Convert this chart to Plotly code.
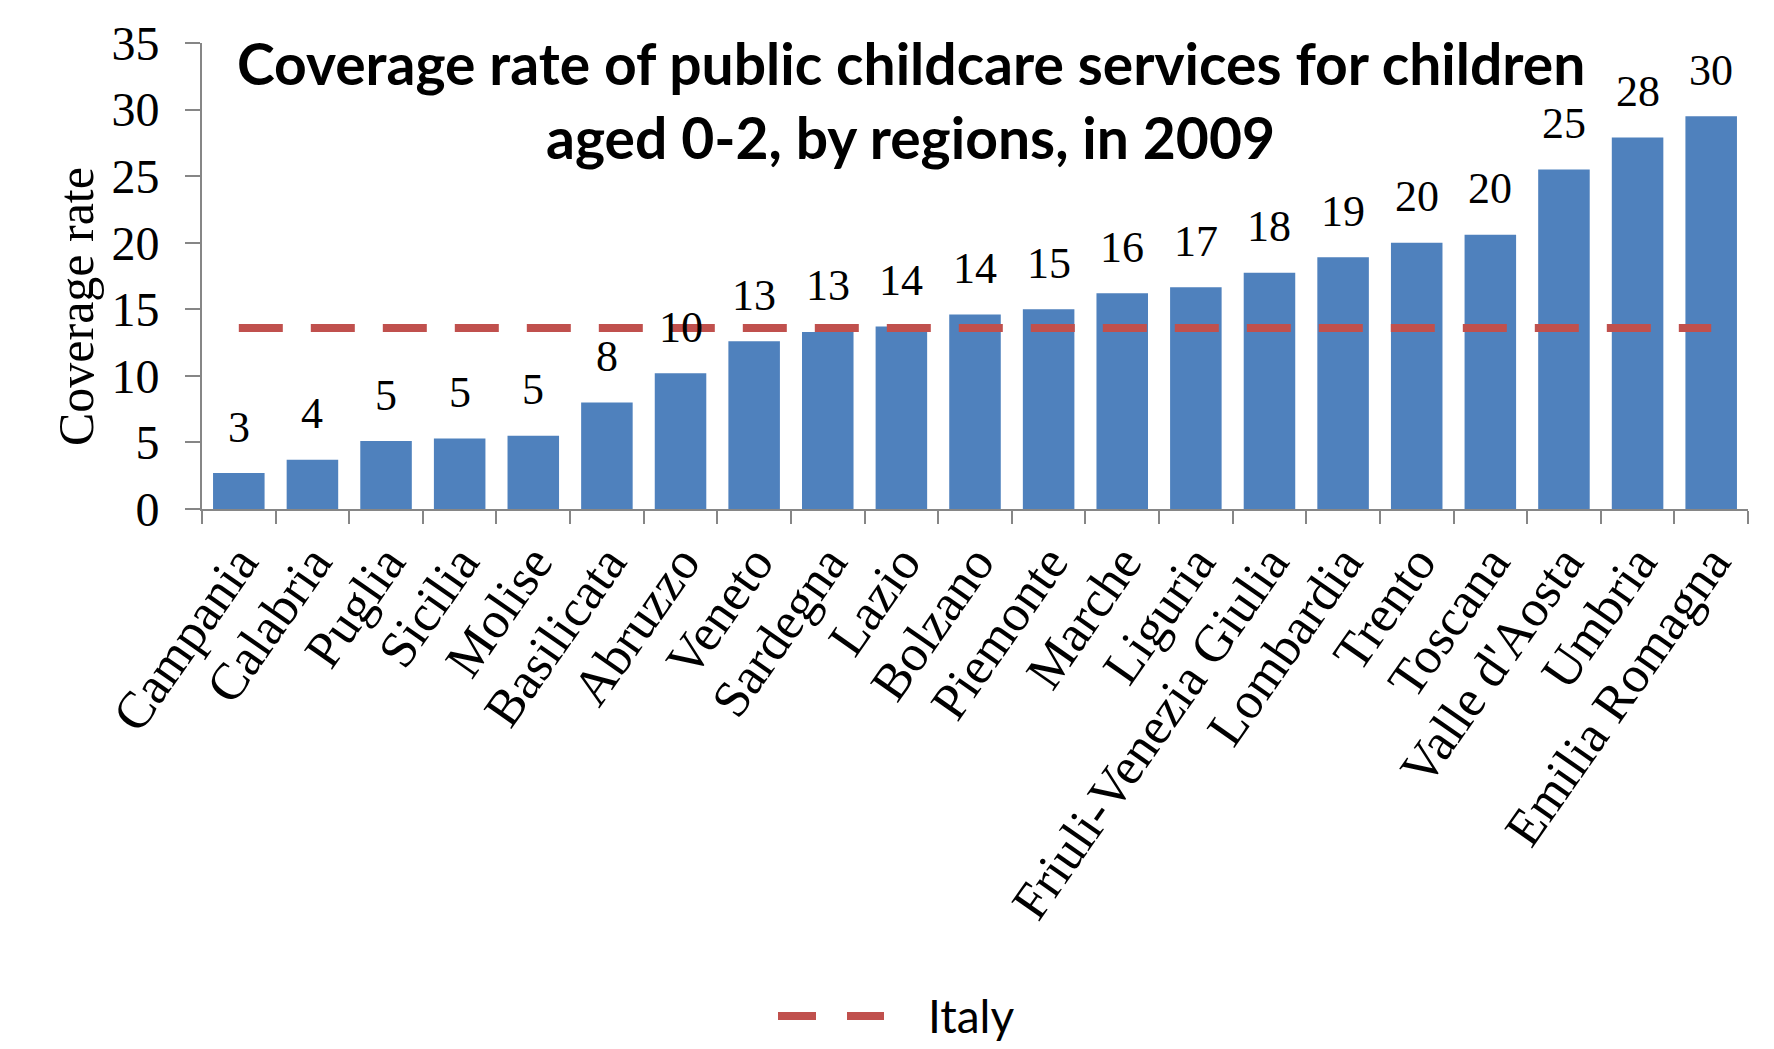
import plotly.graph_objects as go

regions = ["Campania", "Calabria", "Puglia", "Sicilia", "Molise", "Basilicata", "Abruzzo",
           "Veneto", "Sardegna", "Lazio", "Bolzano", "Piemonte", "Marche", "Liguria",
           "Friuli-Venezia Giulia", "Lombardia", "Trento", "Toscana", "Valle d'Aosta",
           "Umbria", "Emilia Romagna"]
coverage = [2.7, 3.7, 5.1, 5.3, 5.5, 8.0, 10.2, 12.6, 13.3, 13.7, 14.6, 15.0, 16.2, 16.65,
            17.75, 18.9, 20.0, 20.6, 25.5, 27.9, 29.5]
labels = ["3", "4", "5", "5", "5", "8", "10", "13", "13", "14", "14", "15", "16", "17",
          "18", "19", "20", "20", "25", "28", "30"]
italy_value = 13.6
italy = [italy_value] * len(regions)

serif = "Liberation Serif, Times New Roman, serif"
sans = "Lato, Carlito, Calibri, sans-serif"
RED = "#C0504D"

fig = go.Figure()
fig.add_trace(go.Bar(x=regions, y=coverage, marker=dict(color="#4F81BD", line=dict(width=0)),
                     showlegend=False, hoverinfo="x+y"))
fig.add_trace(go.Scatter(x=regions, y=italy, mode="lines", name="Italy", showlegend=False,
                         line=dict(color=RED, width=8, dash="44px,28px")))

# data labels
for r, v, t in zip(regions, coverage, labels):
    fig.add_annotation(x=r, y=v, text=t, showarrow=False, yanchor="middle", yshift=46,
                       font=dict(family=serif, size=44, color="black"))

# y axis title
fig.add_annotation(xref="paper", yref="paper", x=-0.081, y=0.435, xanchor="center",
                   yanchor="middle", text="Coverage rate", textangle=-90, showarrow=False,
                   font=dict(family=serif, size=50, color="black"))

# chart title (two lines)
fig.add_annotation(xref="paper", yref="paper", x=0.4586, y=0.958, yanchor="middle",
                   text="<b>Coverage rate of public childcare services for children</b>",
                   showarrow=False, font=dict(family=sans, size=57, color="black"))
fig.add_annotation(xref="paper", yref="paper", x=0.4586, y=0.798, yanchor="middle",
                   text="<b>aged 0-2, by regions, in 2009</b>",
                   showarrow=False, font=dict(family=sans, size=57, color="black"))

# legend (manual, to match the long dashed sample)
W, H, L, B = 1546, 466, 202, 509
def px_x(p):
    return (p - L) / W
def px_y(p):
    return (B - p) / H
for x0, x1 in [(778, 816), (847, 884)]:
    fig.add_shape(type="line", xref="paper", yref="paper", x0=px_x(x0), x1=px_x(x1),
                  y0=px_y(1016), y1=px_y(1016), line=dict(color=RED, width=8))
fig.add_annotation(xref="paper", yref="paper", x=px_x(926), y=px_y(1016), xanchor="left",
                   yanchor="middle", text="Italy", showarrow=False,
                   font=dict(family=sans, size=46, color="black"))

fig.update_layout(
    width=1774, height=1049,
    margin=dict(l=L, r=1774 - L - W, t=43, b=1049 - B),
    paper_bgcolor="white", plot_bgcolor="white",
    bargap=0.3,
    showlegend=False,
    xaxis=dict(tickangle=-55, tickfont=dict(family=serif, size=52, color="black"),
               showline=True, linecolor="#868686", linewidth=2, ticks="outside", tickson="boundaries",
               ticklen=13, tickcolor="#868686", tickwidth=2, showgrid=False, automargin=False),
    yaxis=dict(range=[0, 35], dtick=5, tickfont=dict(family=serif, size=48, color="black"),
               showline=True, linecolor="#868686", linewidth=2, ticks="outside", ticklen=15,
               tickcolor="#868686", tickwidth=2, showgrid=False, zeroline=False, automargin=False,
               ticklabelstandoff=16),
)

fig.write_html("out.html")
